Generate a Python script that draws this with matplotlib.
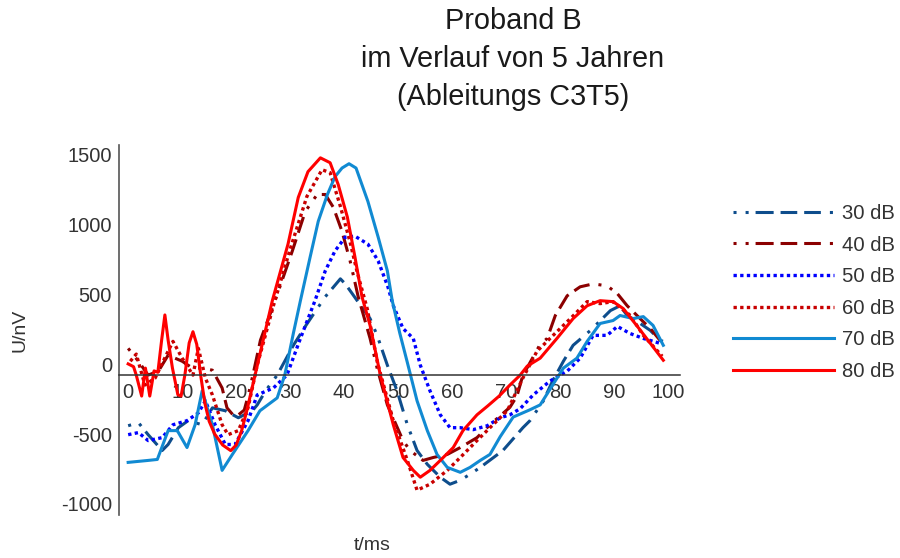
import numpy as np
import matplotlib
matplotlib.use("Agg")
import matplotlib.pyplot as plt
import matplotlib.transforms as mtransforms

plt.rcParams["font.family"] = ["Liberation Sans", "DejaVu Sans"]
plt.rcParams["lines.scale_dashes"] = False
plt.rcParams["axes.unicode_minus"] = False

# ---- evoked potentials, one series per stimulus level ----
t_30 = [0, 1.9, 3.7, 6.3, 7.4, 9.3, 11.1, 13.7, 15.6, 18, 20.4, 23, 23.9, 25.5, 27.6,
        30.6, 33, 36.5, 39.3, 40.2, 41.5, 43, 44.8, 46.1, 48, 49.8, 51.7, 53.5, 55.4,
        57.8, 59.6, 61.5, 63.3, 65.2, 69.4, 73.1, 74.4, 76.9, 78.5, 80.6, 82.4, 85.6,
        89.3, 91.1, 92.4, 94.3, 96.7, 98.5, 99.1]
u_30 = [-362, -340, -426, -539, -496, -376, -326, -355, -234, -255, -305, -255, -213,
        -110, 0, 213, 360, 560, 688, 652, 582, 500, 404, 284, 71, -113, -355, -539, -638,
        -730, -780, -752, -709, -660, -539, -376, -326, -184, -50, 99, 213, 319, 461,
        496, 426, 383, 319, 248, 241]

t_40 = [0, 1.9, 3.7, 5.6, 7.4, 10, 11.9, 13.7, 15.6, 17.4, 18.3, 19.4, 20.2, 21.5, 22.2,
        23.1, 24.5, 27.2, 30.4, 32.8, 35, 36.5, 38, 39.6, 41.1, 42.6, 44.8, 46.1, 48,
        50.9, 52.2, 54.6, 56.5, 59.1, 61.5, 64.6, 67, 70.7, 72, 73.1, 74, 76.3, 77.6,
        79.1, 81.3, 83.7, 86.1, 88.7, 90.6, 92.4, 94.8, 96.7, 98.5]
u_40 = [191, 99, 0, 28, 142, 99, 50, 50, 35, -92, -234, -284, -291, -250, -150, 0, 250,
        532, 887, 1170, 1291, 1291, 1199, 1028, 816, 560, 262, 50, -213, -468, -539, -610,
        -589, -567, -518, -447, -355, -230, -150, 0, 60, 220, 262, 426, 567, 631, 652,
        638, 582, 496, 404, 333, 248]

t_50 = [0, 1.9, 3.7, 6.3, 8.3, 10.9, 13, 14.3, 16.1, 18, 19.8, 22.2, 23.9, 26.9, 29.4,
        31.9, 34.6, 36.5, 38.3, 40.2, 42, 44.4, 46.3, 48.1, 49.1, 50.9, 52.8, 54.1, 55.9,
        57.8, 59.6, 61.5, 63.9, 66.5, 68.9, 70.7, 72.6, 75, 78.1, 80, 81.3, 83.7, 86.1,
        88.7, 90.6, 92.9, 95.4, 98.5]
u_50 = [-426, -411, -468, -447, -355, -326, -270, -184, -355, -496, -496, -326, -142,
        -92, 0, 262, 532, 745, 887, 986, 993, 936, 816, 631, 496, 333, 262, 71, -113,
        -284, -376, -376, -390, -362, -305, -284, -240, -142, -43, 0, 28, 121, 284, 284,
        348, 298, 262, 227]

t_60 = [0.4, 1.5, 3.1, 5, 6.5, 8.3, 10, 12, 13, 14.3, 15.6, 17.4, 18.5, 20.4, 22.2, 23.9,
        26.9, 30, 33.1, 35.9, 37.4, 39.3, 41.1, 42.4, 44.3, 46.1, 49.1, 51.7, 53.5, 55.9,
        59.1, 61.5, 64.6, 67, 70.2, 73.1, 75.7, 78.7, 81.9, 85, 87.4, 89.8, 93, 95.4,
        98.9]
u_60 = [99, 150, -71, -21, 100, 241, 121, 0, 191, -21, -142, -355, -426, -397, -234, 71,
        496, 900, 1277, 1468, 1447, 1206, 950, 738, 470, 99, -326, -610, -823, -780,
        -681, -589, -468, -376, -255, -21, 170, 284, 404, 525, 511, 525, 426, 284, 135]

t_70 = [0, 3.7, 5.4, 7.4, 9.1, 10.9, 12.4, 13.7, 15.6, 17.4, 19.3, 22.2, 24.4, 27.6,
        29, 30.6, 31.9, 33.7, 35.2, 36.9, 38.3, 39.6, 40.9, 42.2, 44.4, 46.3, 48, 48.9,
        50.3, 51.7, 53.5, 55.4, 57.2, 59.1, 61.5, 63.3, 65.2, 67, 68.9, 71.3, 74.4, 76.3,
        78.3, 80.6, 83.1, 85, 87.4, 89.8, 91.1, 93.5, 95.4, 97.2, 99.1]
u_70 = [-624, -610, -603, -397, -397, -518, -355, -113, -355, -681, -567, -397, -255,
        -163, 0, 300, 532, 844, 1099, 1291, 1418, 1480, 1511, 1480, 1241, 986, 745, 532,
        300, 90, -184, -397, -567, -660, -695, -660, -610, -567, -440, -300, -248, -213,
        -90, 50, 121, 241, 369, 390, 426, 404, 418, 355, 213]

t_80 = [0, 1, 1.5, 2.5, 3.2, 4, 4.8, 5.5, 6.2, 6.8, 7.4, 8.2, 9.2, 9.8, 10.5, 11.3, 12,
        12.7, 13.5, 14.2, 15, 16, 17.5, 19, 20, 21, 22, 23.5, 26.7, 29.6, 31.5, 33.3,
        35.6, 37.4, 38.9, 40.6, 42, 43.3, 44.8, 46.7, 49.1, 50.9, 52.8, 54.1, 55.9, 57.8,
        60.2, 62, 64.6, 66.6, 68.7, 70.7, 72.6, 73.9, 76.3, 79.4, 82.4, 85, 87.4, 89.8,
        91.7, 94.3, 96.7, 99.1]
u_80 = [80, 60, 0, -150, 50, -150, 30, 20, 250, 430, 250, 50, -140, -150, 0, 230, 310,
        220, -20, -200, -330, -420, -500, -540, -500, -400, -250, 0, 532, 936, 1270, 1454,
        1553, 1518, 1362, 1128, 844, 560, 355, 0, -355, -589, -681, -730, -681, -610,
        -518, -397, -284, -220, -150, -71, 0, 64, 121, 262, 404, 496, 532, 525, 475, 348,
        227, 106]

labels = ["30 dB", "40 dB", "50 dB", "60 dB", "70 dB", "80 dB"]
x_ticks = [0, 10, 20, 30, 40, 50, 60, 70, 80, 90, 100]
y_ticks = [-1000, -500, 0, 500, 1000, 1500]

# dot, dot, three long dashes
dash_dot_dot = (0, (2.2, 6.5, 2.2, 5, 13, 5, 12, 5, 12, 6.5))
dotted = (0, (2.4, 2.4))

series = [
    (t_30, u_30, "#0e4d8c", dash_dot_dot, 2.2),
    (t_40, u_40, "#8b0000", dash_dot_dot, 2.2),
    (t_50, u_50, "#0000ff", dotted, 2.4),
    (t_60, u_60, "#c80000", dotted, 2.4),
    (t_70, u_70, "#118ad2", "-", 2.2),
    (t_80, u_80, "#ff0000", "-", 2.2),
]

fig = plt.figure(figsize=(9, 5.58), dpi=100)
ax = fig.add_axes([0.1322, 0.0771, 0.6234, 0.6631])

handles = []
for (t, u, col, ls, lw), lab in zip(series, labels):
    h, = ax.plot(t, u, color=col, linestyle=ls, linewidth=lw, label=lab,
                 solid_joinstyle="round", dash_joinstyle="round")
    handles.append(h)

ax.set_xlim(-1.7, 102.2)
ax.set_ylim(-1000, 1645)

for side in ["top", "right"]:
    ax.spines[side].set_visible(False)
ax.spines["bottom"].set_position(("data", 0))
ax.spines["bottom"].set_color("#333333")
ax.spines["bottom"].set_linewidth(1.1)
ax.spines["left"].set_color("#555555")
ax.spines["left"].set_linewidth(1.2)

ax.set_xticks(x_ticks)
ax.set_yticks(y_ticks)
ax.tick_params(axis="both", length=0, labelsize=14.5, labelcolor="#333333")
ax.tick_params(axis="x", pad=5.5)
ax.tick_params(axis="y", pad=5)

# y labels sit a little above their gridline
shift = mtransforms.ScaledTranslation(0, 11 / 100, fig.dpi_scale_trans)
for lbl in ax.get_yticklabels():
    lbl.set_transform(lbl.get_transform() + shift)

fig.text(20 / 900, 1 - 330 / 558, "U/nV", rotation=90, ha="center", va="center",
         fontsize=14, color="#333333")
fig.text(372 / 900, 1 - 546 / 558, "t/ms", ha="center", va="center",
         fontsize=14, color="#333333")

title_lines = ["Proband B", "im Verlauf von 5 Jahren", "(Ableitungs C3T5)"]
for i, line in enumerate(title_lines):
    fig.text(513 / 900, 1 - (21 + 38 * i) / 558, line, ha="center", va="center",
             fontsize=20.8, color="#1a1a1a")

fig.legend(handles=handles, labels=labels, loc="upper left",
           bbox_to_anchor=(733 / 900, 1 - 204 / 558), frameon=False,
           fontsize=14.6, handlelength=5.0, handletextpad=0.4, labelspacing=0.62,
           borderpad=0, borderaxespad=0, labelcolor="#333333")

fig.savefig("out.png", dpi=100)
